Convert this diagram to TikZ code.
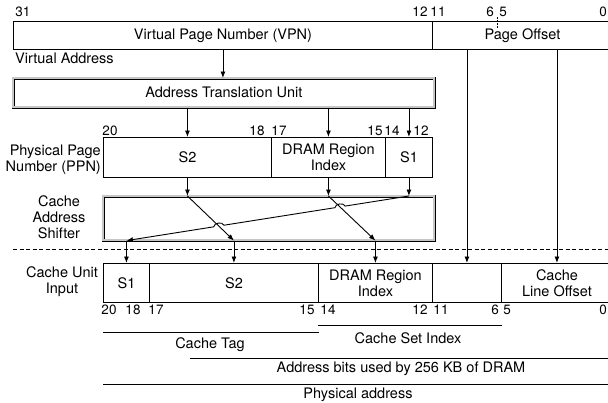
\documentclass[tikz,border=0pt]{standalone}
\usepackage{fontspec}
\setmainfont{TeX Gyre Heros}
\usetikzlibrary{arrows.meta,calc}
\newcommand{\lblfont}{\fontsize{14.5}{16}\selectfont}
\newcommand{\numfont}{\fontsize{13.5}{14}\selectfont}
\begin{document}
\begin{tikzpicture}[x=1pt,y=-1pt,
  box/.style={draw, line width=0.9pt, anchor=north west, inner sep=0pt, align=center, font=\lblfont},
  dbox/.style={draw=black, line width=0.6pt, double=gray!45, double distance=1.8pt, anchor=north west, inner sep=0pt, font=\lblfont},
  num/.style={font=\numfont, inner sep=0pt},
  lbl/.style={font=\lblfont, inner sep=0pt, align=center},
  arr/.style={-{Latex[length=6.5pt,width=5pt]}, line width=0.9pt},
  wire/.style={line width=0.9pt}]
\useasboundingbox (0,0) rectangle (608,402);

% Virtual address
\node[box, minimum width=419pt, minimum height=28pt] (vpn) at (13,21) {Virtual Page Number (VPN)};
\node[box, minimum width=180pt, minimum height=28pt] (po) at (432,21) {Page Offset};
\node[num] (t31) at (23,12) {31};
\node[num] (t12) at (420,12) {12};
\node[num] (t11) at (438,12) {11};
\node[num] (t6) at (490,12) {6};
\node[num] (t5) at (503,12) {5};
\node[num] (t0) at (603,12) {0};
\draw[line width=0.7pt, dash pattern=on 1.5pt off 1.5pt] (497,17) -- (497,29);
\node[lbl, anchor=west] (va) at (15,58) {Virtual Address};

% ATU
\node[dbox, minimum width=421pt, minimum height=29pt] (atu) at (13,78) {Address Translation Unit};
\draw[arr] (vpn.south) -- (vpn.south |- atu.north);

% PPN
\node[box, minimum width=168pt, minimum height=40pt] (s2p) at (103,137) {S2};
\node[box, minimum width=114pt, minimum height=40pt] (drp) at (271,137) {DRAM Region\\Index};
\node[box, minimum width=47pt, minimum height=40pt] (s1p) at (385,137) {S1};
\node[num] (p20) at (110,131) {20};
\node[num] (p18) at (257,131) {18};
\node[num] (p17) at (279,131) {17};
\node[num] (p15) at (375,131) {15};
\node[num] (p14) at (392,131) {14};
\node[num] (p12) at (421,131) {12};
\node[lbl, align=right, anchor=east] (ppnl) at (101,160) {Physical Page\\Number (PPN)};
\draw[arr] (s2p.north |- atu.south) -- (s2p.north);
\draw[arr] (drp.north |- atu.south) -- (drp.north);
\draw[arr] (s1p.north |- atu.south) -- (s1p.north);

% Cache address shifter
\node[dbox, minimum width=331pt, minimum height=44pt] (cas) at (103,196) {};
\node[lbl] (casl) at (59,217) {Cache\\Address\\Shifter};
\draw[arr] (s2p.south) -- (s2p.south |- cas.north);
\draw[arr] (drp.south) -- (drp.south |- cas.north);
\draw[arr] (s1p.south) -- (s1p.south |- cas.north);

% Cache unit input
\node[box, minimum width=46pt, minimum height=39pt] (cs1) at (103,263) {S1};
\node[box, minimum width=169pt, minimum height=39pt] (cs2) at (149,263) {S2};
\node[box, minimum width=114pt, minimum height=39pt] (cdr) at (318,263) {DRAM Region\\Index};
\node[box, minimum width=69pt, minimum height=39pt] (cmid) at (432,263) {};
\node[box, minimum width=111pt, minimum height=39pt] (clo) at (501,263) {Cache\\Line Offset};
\node[lbl] (cul) at (62,282) {Cache Unit\\Input};

% shifter wiring
\coordinate (s2a) at (s2p.south |- cas.north);
\coordinate (s2b) at (cs2.north |- cas.south);
\coordinate (dra) at (drp.south |- cas.north);
\coordinate (drb) at (cdr.north |- cas.south);
\coordinate (s1a) at (s1p.south |- cas.north);
\coordinate (s1b) at (cs1.north |- cas.south);
\draw[arr] (s2a) -- (s2b);
\draw[arr] (dra) -- (drb);
\draw[arr] (s1a) -- ($(s1a)!0.226!(s1b)$) to[bend right=80] ($(s1a)!0.262!(s1b)$) -- ($(s1a)!0.655!(s1b)$) to[bend right=80] ($(s1a)!0.691!(s1b)$) -- (s1b);
\draw[arr] (s2b) -- (cs2.north);
\draw[arr] (drb) -- (cdr.north);
\draw[arr] (s1b) -- (cs1.north);

% page offset wiring
\draw[arr] (cmid.north |- po.south) -- (cmid.north);
\draw[arr] (clo.north |- po.south) -- (clo.north);

% dashed separator
\coordinate (dl) at (13,249);
\coordinate (dr) at (608,249);
\draw[line width=0.9pt, dash pattern=on 4pt off 2.5pt] (dl) -- (dr);

% bottom numbers
\node[num] (b20) at (109,310) {20};
\node[num] (b18) at (133,310) {18};
\node[num] (b17) at (156,310) {17};
\node[num] (b15) at (307,310) {15};
\node[num] (b14) at (328,310) {14};
\node[num] (b12) at (420,310) {12};
\node[num] (b11) at (441,310) {11};
\node[num] (b6) at (495,310) {6};
\node[num] (b5) at (507,310) {5};
\node[num] (b0) at (603,310) {0};

% ranges
\draw[wire] (cdr.south west |- 0,325) -- (cmid.south east |- 0,325);
\node[lbl] (csi) at (408,338) {Cache Set Index};
\draw[wire] (cs1.south west |- 0,332) -- (cs2.south east |- 0,332);
\node[lbl] (ctag) at (210,345) {Cache Tag};
\draw[wire] (190,358) -- (608,358);
\node[lbl] (abits) at (401,369) {Address bits used by 256 KB of DRAM};
\draw[wire] (cs1.south west |- 0,384) -- (608,384);
\node[lbl] (pa) at (358,395) {Physical address};
\end{tikzpicture}
\end{document}
